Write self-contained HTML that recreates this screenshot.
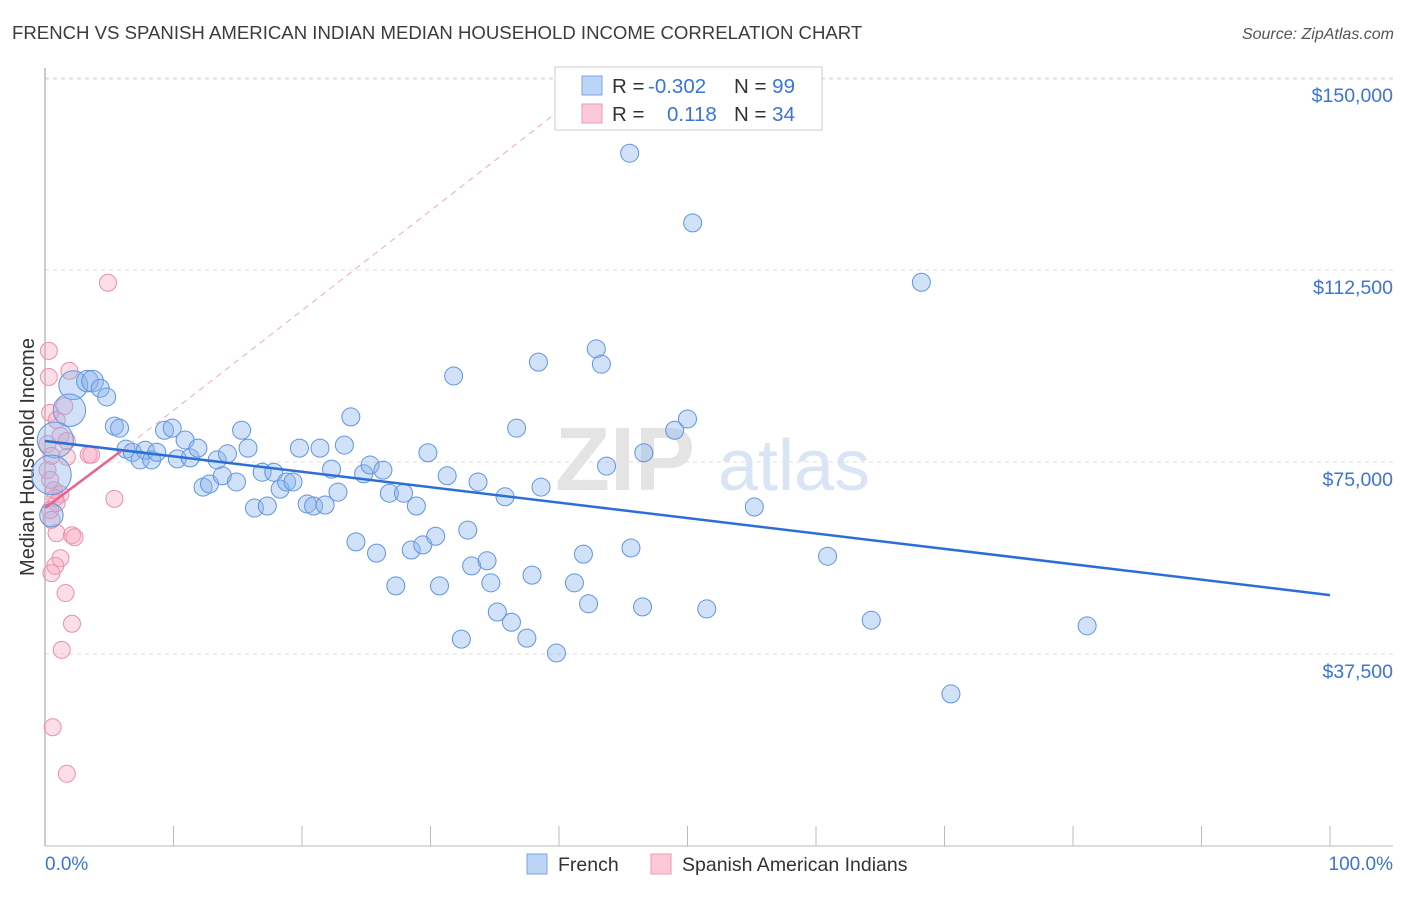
<!DOCTYPE html>
<html><head><meta charset="utf-8"><style>
body{margin:0;background:#fff;font-family:"Liberation Sans",sans-serif;}
svg text{font-family:"Liberation Sans",sans-serif;}
</style></head><body>
<svg id="chart" width="1406" height="892" xmlns="http://www.w3.org/2000/svg">
<text x="12" y="39" font-size="18.6" fill="#3c3c3c">FRENCH VS SPANISH AMERICAN INDIAN MEDIAN HOUSEHOLD INCOME CORRELATION CHART</text>
<text x="1394" y="39" font-size="16" fill="#555" text-anchor="end" font-style="italic">Source: ZipAtlas.com</text>
<g id="grid"></g>
<g>
<text x="555" y="490" font-size="90" fill="#e4e4e4" font-family="Liberation Serif" font-weight="bold">ZIP</text>
<text x="718" y="490" font-size="72" fill="#d9e4f4">atlas</text>
</g>
<line x1="45" y1="68" x2="45" y2="846" stroke="#bbb" stroke-width="1.5"/>
<line x1="45" y1="846" x2="1393" y2="846" stroke="#bbb" stroke-width="1"/>
<text transform="translate(34,457) rotate(-90)" font-size="20" fill="#333" text-anchor="middle">Median Household Income</text>
<g id="marks"></g>
<g>
<rect x="555" y="67" width="267" height="63" fill="#fff" stroke="#ccc"/>
<rect x="582" y="76" width="20" height="19" fill="#bcd4f5" stroke="#7aa6e6"/>
<rect x="582" y="104" width="20" height="19" fill="#fbc9d7" stroke="#ee9ab2"/>
<text x="612" y="93" font-size="20.5" fill="#333">R = <tspan x="648" fill="#3a74d8">-0.302</tspan><tspan x="734">N = </tspan><tspan fill="#3a74d8">99</tspan></text>
<text x="612" y="121" font-size="20.5" fill="#333">R = <tspan x="667" fill="#3a74d8">0.118</tspan><tspan x="734">N = </tspan><tspan fill="#3a74d8">34</tspan></text>
</g>
<text x="45" y="870" font-size="19" fill="#3a74d8">0.0%</text>
<text x="1393" y="870" font-size="19" fill="#3a74d8" text-anchor="end">100.0%</text>
<g>
<rect x="527" y="854" width="20" height="20" fill="#bcd4f5" stroke="#7aa6e6"/>
<text x="558" y="871" font-size="19.5" fill="#333">French</text></g>
<g>
<rect x="651" y="854" width="20" height="20" fill="#fbc9d7" stroke="#ee9ab2"/>
<text x="682" y="871" font-size="19.5" fill="#333">Spanish American Indians</text></g>
</svg>
<script>
const yTicks=[37500,75000,112500,150000];
const yTickLabels=["$37,500","$75,000","$112,500","$150,000"];
const xTicks=[0,10,20,30,40,50,60,70,80,90,100];
const frenchX=[45.5,50.4,68.2,42.9,43.3,38.4,31.8,2.2,3.3,3.7,4.3,4.8,1.9,0.8,0.5,0.5,5.4,5.8,6.3,6.8,7.4,7.8,8.3,8.7,9.3,9.9,10.3,10.9,11.3,11.9,12.3,12.8,13.4,13.8,14.2,14.9,15.3,15.8,16.3,16.9,17.3,17.8,18.3,18.8,19.3,19.8,20.4,20.9,21.4,21.8,22.3,22.8,23.3,23.8,24.2,24.8,25.3,25.8,26.3,26.8,27.3,27.9,28.5,28.9,29.4,29.8,30.4,30.7,31.3,32.4,32.9,33.2,33.7,34.4,34.7,35.2,35.8,36.3,36.7,37.5,37.9,38.6,39.8,41.2,41.9,42.3,43.7,45.6,46.5,46.6,49.0,50.0,51.5,55.2,60.9,64.3,70.5,81.1];
const frenchY=[135.3,121.7,110.1,97.1,94.1,94.5,91.8,90.0,90.8,90.8,89.4,87.7,85.1,79.3,72.5,64.6,82.0,81.6,77.5,76.9,75.4,77.3,75.4,76.9,81.2,81.6,75.6,79.3,75.8,77.7,70.1,70.7,75.4,72.3,76.6,71.1,81.2,77.7,66.0,73.0,66.4,73.0,69.7,71.1,71.1,77.7,66.8,66.4,77.7,66.6,73.6,69.1,78.3,83.8,59.4,72.7,74.4,57.2,73.4,68.9,50.8,68.9,57.8,66.4,58.8,76.8,60.5,50.8,72.3,40.4,61.7,54.7,71.1,55.7,51.4,45.7,68.2,43.7,81.6,40.6,52.9,70.1,37.7,51.4,57.0,47.3,74.2,58.2,46.7,76.8,81.2,83.4,46.3,66.2,56.6,44.1,29.7,43.0];
const frenchSize=[1,1,1,1,1,1,1,1.6,1.2,1.2,1,1,1.8,2.0,2.2,1.3,1,1,1,1,1,1,1,1,1,1,1,1,1,1,1,1,1,1,1,1,1,1,1,1,1,1,1,1,1,1,1,1,1,1,1,1,1,1,1,1,1,1,1,1,1,1,1,1,1,1,1,1,1,1,1,1,1,1,1,1,1,1,1,1,1,1,1,1,1,1,1,1,1,1,1,1,1,1,1,1,1,1];
const spanishX=[4.9,0.3,0.3,1.9,1.5,0.4,0.9,1.2,0.2,1.7,0.5,1.7,3.4,3.6,5.4,0.7,1.2,0.8,0.9,0.4,0.5,0.9,2.1,2.3,1.2,0.8,0.5,1.6,2.1,1.3,0.6,1.7,0.2,0.4];
const spanishY=[110.0,96.7,91.6,92.8,85.9,84.6,83.2,80.1,78.5,79.1,76.2,76.0,76.4,76.4,67.8,69.5,68.7,68.0,67.0,65.6,63.7,61.1,60.7,60.3,56.2,54.7,53.3,49.4,43.4,38.3,23.2,14.1,73.4,71.5];
const frenchTrend=[[0,79.1],[100,49.0]];
const spanishTrend=[[0,66.0],[5.9,77.1]];
const spanishTrendExt=[[5.9,77.1],[40,143.6]];
const NS="http://www.w3.org/2000/svg";
const xs=v=>45+v*12.85;
const ys=v=>846-v*1000/195.3;
function mk(t,a,p){const e=document.createElementNS(NS,t);for(const k in a)e.setAttribute(k,a[k]);p.appendChild(e);return e;}
const grid=document.getElementById('grid');
yTicks.forEach((t,i)=>{
 const l=mk('line',{x1:45,x2:1393,y1:ys(t/1000),y2:ys(t/1000),stroke:'#ddd','stroke-dasharray':'4,4'},grid);
 
 
 const tx=mk('text',{x:1393,y:ys(t/1000)+24,'font-size':19.5,fill:'#3a74d8','text-anchor':'end'},grid);
 tx.textContent=yTickLabels[i];
 
 
});
{const l=mk('line',{x1:45,x2:1393,y1:79,y2:79,stroke:'#ddd','stroke-dasharray':'4,4'},grid);
 
 }
xTicks.forEach(t=>{
 const l=mk('line',{x1:xs(t),x2:xs(t),y1:826,y2:846,stroke:'#bbb'},grid);
 
 
});
const marks=document.getElementById('marks');
spanishX.forEach((x,i)=>{
 const c=mk('circle',{cx:xs(x),cy:ys(spanishY[i]),r:8.5,fill:'rgba(246,160,186,0.35)',stroke:'#ec8fab','stroke-width':1},marks);
 
 
});
frenchX.forEach((x,i)=>{
 const c=mk('circle',{cx:xs(x),cy:ys(frenchY[i]),r:9*frenchSize[i],fill:'rgba(140,180,236,0.4)',stroke:'#5f95e0','stroke-width':1},marks);
 
 
});
let l=mk('line',{x1:xs(spanishTrendExt[0][0]),y1:ys(spanishTrendExt[0][1]),x2:xs(spanishTrendExt[1][0]),y2:ys(spanishTrendExt[1][1]),stroke:'#eeaabd','stroke-dasharray':'6,5','stroke-width':1},marks);


l=mk('line',{x1:xs(frenchTrend[0][0]),y1:ys(frenchTrend[0][1]),x2:xs(frenchTrend[1][0]),y2:ys(frenchTrend[1][1]),stroke:'#2b6fd6','stroke-width':2.5},marks);


l=mk('line',{x1:xs(spanishTrend[0][0]),y1:ys(spanishTrend[0][1]),x2:xs(spanishTrend[1][0]),y2:ys(spanishTrend[1][1]),stroke:'#e4668c','stroke-width':2.5},marks);


</script>
</body></html>
